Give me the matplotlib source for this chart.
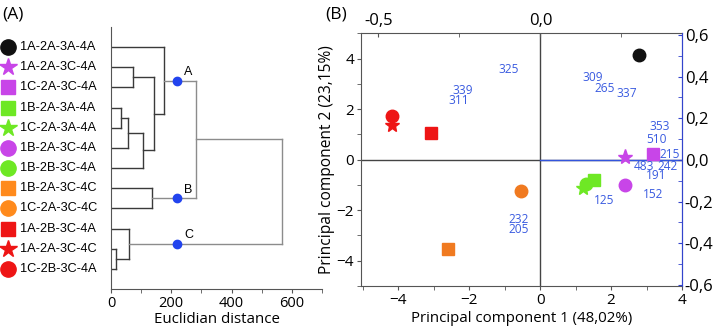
import numpy as np
import matplotlib.pyplot as plt
from matplotlib.transforms import blended_transform_factory

plt.rcParams['font.family'] = ['Open Sans', 'DejaVu Sans']

# ---- panel A data: dendrogram ----
leaf_names = ["1A-2A-3A-4A", "1A-2A-3C-4A", "1C-2A-3C-4A", "1B-2A-3A-4A",
              "1C-2A-3A-4A", "1B-2A-3C-4A", "1B-2B-3C-4A", "1B-2A-3C-4C",
              "1C-2A-3C-4C", "1A-2B-3C-4A", "1A-2A-3C-4C", "1C-2B-3C-4A"]
leaf_markers = ["o", "*", "s", "s", "*", "o", "o", "s", "o", "s", "*", "o"]
leaf_colors = ["#111111", "#c845e8", "#c845e8", "#6ee824", "#6ee824", "#c845e8",
               "#6ee824", "#ff8a1c", "#ff8a1c", "#ee1515", "#ee1515", "#ee1515"]
# merges: (child a, child b, height) -- node ids 0..11 leaves, 12.. merges
merges = [(1, 2, 74), (3, 4, 33), (13, 5, 57), (14, 6, 107), (12, 15, 142),
          (0, 16, 176), (7, 8, 135), (10, 11, 17), (9, 19, 61),
          (17, 18, 281), (21, 20, 568)]
cluster_nodes = {17: "A", 18: "B", 20: "C"}
cut_height = 219

# ---- panel B data: PCA scores ----
pc1 = [2.80, 2.39, 3.19, 1.53, 1.20, 2.39, 1.29, -2.60, -0.55, -3.07, -4.17, -4.18]
pc2 = [4.16, 0.10, 0.22, -0.79, -1.12, -1.01, -0.96, -3.52, -1.23, 1.05, 1.38, 1.71]
score_colors = ["#111111", "#c845e8", "#c845e8", "#6ee824", "#6ee824", "#c845e8",
                "#6ee824", "#f07a20", "#f07a20", "#ee1515", "#ee1515", "#ee1515"]
# loadings labels (secondary axes)
load_names = ["325", "339", "311", "309", "265", "337", "353", "510", "215",
              "483", "242", "191", "125", "152", "232", "205"]
load_u = [-0.098, -0.240, -0.251, 0.162, 0.197, 0.267, 0.369, 0.358, 0.398,
          0.321, 0.392, 0.357, 0.198, 0.349, -0.068, -0.068]
load_v = [0.432, 0.335, 0.287, 0.397, 0.344, 0.320, 0.163, 0.100, 0.024,
          -0.032, -0.032, -0.074, -0.196, -0.165, -0.284, -0.336]

fig = plt.figure(figsize=(7.14, 3.34), dpi=100)

# ================= panel A =================
axA = fig.add_axes([0.1555, 0.1347, 0.2955, 0.7844])
ypos = {i: i + 1 for i in range(len(leaf_names))}
hgt = {i: 0 for i in range(len(leaf_names))}
dark, light = "#3a3a3a", "#8c8c8c"
for k, (a, b, h) in enumerate(merges):
    node = len(leaf_names) + k
    col = light if h > 250 else dark
    axA.plot([h, h], [ypos[a], ypos[b]], color=col, lw=1)
    for c in (a, b):
        axA.plot([hgt[c], h], [ypos[c], ypos[c]], color=col, lw=1)
    ypos[node] = (ypos[a] + ypos[b]) / 2
    hgt[node] = h
for node, lab in cluster_nodes.items():
    axA.plot(cut_height, ypos[node], "o", color="#2244ee", ms=6, zorder=5)
    axA.annotate(lab, (cut_height, ypos[node]), xytext=(5, 4), textcoords="offset points",
                 fontsize=9, family="Liberation Sans")

axA.set_xlim(0, 700)
axA.set_ylim(13, 0)
axA.set_xticks([0, 200, 400, 600])
axA.set_xticks([100, 300, 500, 700], minor=True)
axA.set_yticks([])
for s in ("top", "right"):
    axA.spines[s].set_visible(False)
for s in ("left", "bottom"):
    axA.spines[s].set_color("#555555")
axA.tick_params(axis="x", which="both", color="#555555", labelsize=10.5, length=3, pad=2)
axA.set_xlabel("Euclidian distance", fontsize=10.8, labelpad=1)

tr = blended_transform_factory(axA.transAxes, axA.transData)
for i, name in enumerate(leaf_names):
    ms = 13 if leaf_markers[i] == "*" else (11 if leaf_markers[i] == "o" else 10)
    axA.plot(-0.488, i + 1, leaf_markers[i], color=leaf_colors[i], ms=ms,
             transform=tr, clip_on=False)
    axA.text(-0.43, i + 1, name, transform=tr, fontsize=9.2, va="center",
             family="Liberation Sans")

fig.text(0.003, 0.958, "(A)", fontsize=12.5, va="center")
fig.text(0.455, 0.958, "(B)", fontsize=12.5, va="center")

# ================= panel B =================
axB = fig.add_axes([0.5056, 0.1437, 0.4496, 0.7566])
axB.set_xlim(-5.05, 4)
axB.set_ylim(-5, 5)
axB.axhline(0, color="#444444", lw=1)
axB.axvline(0, color="#444444", lw=1)
axB.plot([0, 4], [0, 0], color="#3355dd", lw=1)
for i in range(len(pc1)):
    mk = leaf_markers[i]
    ms = 11 if mk == "*" else (9 if mk == "o" else 8)
    axB.plot(pc1[i], pc2[i], mk, color=score_colors[i], ms=ms, zorder=4)
axB.set_xticks([-4, -2, 0, 2, 4])
axB.set_xticks([-5, -3, -1, 1, 3], minor=True)
axB.set_yticks([-4, -2, 0, 2, 4])
axB.set_yticks([-5, -3, -1, 1, 3, 5], minor=True)
axB.tick_params(which="both", color="#555555", labelsize=11, length=3, pad=2)
axB.set_xlabel("Principal component 1 (48,02%)", fontsize=10.8, labelpad=2)
axB.set_ylabel("Principal component 2 (23,15%)", fontsize=11.2, labelpad=1)
for s in ("left", "bottom", "top"):
    axB.spines[s].set_color("#555555")
axB.spines["right"].set_color("#3344cc")

axR = axB.twinx()
axR.set_ylim(-0.605, 0.608)
axR.set_yticks([-0.6, -0.4, -0.2, 0.0, 0.2, 0.4, 0.6])
axR.set_yticklabels(["-0,6", "-0,4", "-0,2", "0,0", "0,2", "0,4", "0,6"])
axR.set_yticks(np.arange(-0.5, 0.6, 0.2), minor=True)
axR.tick_params(which="both", direction="in", color="#3344cc", labelsize=12, length=3, pad=2)

axT = axR.twiny()
axT.set_xlim(-0.554, 0.437)
axT.set_xticks([-0.5, 0.0])
axT.set_xticklabels(["-0,5", "0,0"])
axT.set_xticks([-0.25, 0.25], minor=True)
axT.tick_params(which="both", direction="in", color="#555555", labelsize=12, length=3, pad=3)
for s in axT.spines.values():
    s.set_visible(False)
for s in axR.spines.values():
    s.set_visible(False)
axR.spines["right"].set_visible(True)
axR.spines["right"].set_color("#3344cc")
for i, t in enumerate(load_names):
    axT.text(load_u[i], load_v[i], t, color="#3a5be0", fontsize=8.6,
             ha="center", va="center")

fig.savefig("out.png", dpi=100)
